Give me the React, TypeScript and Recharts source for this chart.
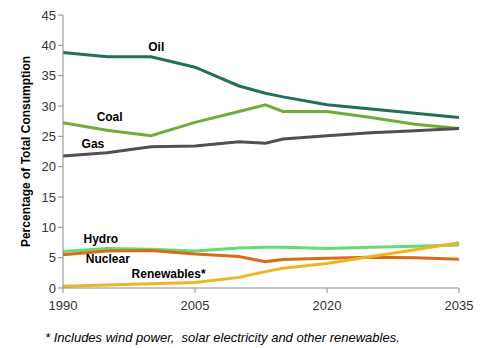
import React from "react";
import { LineChart, Line, XAxis, YAxis, ReferenceDot, Label } from "recharts";

const years = [1990, 1995, 2000, 2005, 2010, 2013, 2015, 2020, 2025, 2030, 2035];
const oil = [38.8, 38.1, 38.1, 36.4, 33.3, 32.1, 31.5, 30.2, 29.5, 28.8, 28.1];
const coal = [27.25, 26.0, 25.1, 27.3, 29.1, 30.2, 29.1, 29.1, 28.1, 27.0, 26.3];
const gas = [21.75, 22.3, 23.3, 23.4, 24.1, 23.85, 24.55, 25.1, 25.6, 25.9, 26.3];
const hydro = [6.0, 6.5, 6.4, 6.1, 6.6, 6.7, 6.7, 6.5, 6.7, 6.9, 7.1];
const nuclear = [5.5, 6.1, 6.2, 5.6, 5.2, 4.35, 4.7, 4.9, 5.05, 5.0, 4.75];
const renewables = [0.3, 0.5, 0.7, 0.9, 1.75, 2.7, 3.25, 4.05, 5.2, 6.3, 7.45];

const xTicks = [1990, 2005, 2020, 2035];
const yTicks = [0, 5, 10, 15, 20, 25, 30, 35, 40, 45];

const seriesNames = ["Oil", "Coal", "Gas", "Hydro", "Nuclear", "Renewables"];
const seriesColors = ["#22705A", "#70AD38", "#524E54", "#63DC74", "#DD6A18", "#EFB421"];

const labelTexts = ["Oil", "Coal", "Gas", "Hydro", "Nuclear", "Renewables*"];
const labelYears = [2000.6, 1995.3, 1993.4, 1994.3, 1995.1, 2002.0];
const labelValues = [39.7, 28.2, 23.7, 8.2, 4.9, 2.3];

const seriesValues = [oil, coal, gas, hydro, nuclear, renewables];
const data = years.map((y, i) => {
  const row: Record<string, number> = { year: y };
  seriesNames.forEach((n, k) => {
    row[n] = seriesValues[k][i];
  });
  return row;
});

const tickStyle = { fontFamily: "Arial, 'Liberation Sans', sans-serif", fontSize: 13, fill: "#333" };

export default function App() {
  return (
    <div style={{ position: "absolute", left: 0, top: 0, width: 489, height: 348, background: "#fff" }}>
      <LineChart width={489} height={348} data={data} margin={{ top: 15, right: 30, bottom: 30, left: 20 }}>
        <XAxis
          dataKey="year"
          type="number"
          domain={[1990, 2035]}
          ticks={xTicks}
          tickSize={5}
          tickMargin={8}
          tick={tickStyle}
          stroke="#8c8c8c"
          tickLine={{ stroke: "#8c8c8c" }}
          height={30}
        />
        <YAxis
          type="number"
          domain={[0, 45]}
          ticks={yTicks}
          tickSize={5}
          tick={tickStyle}
          stroke="#8c8c8c"
          tickLine={{ stroke: "#8c8c8c" }}
          width={43}
          interval={0}
        >
          <Label
            value="Percentage of Total Consumption"
            angle={-90}
            position="insideLeft"
            dx={1}
            style={{
              textAnchor: "middle",
              fontFamily: "Arial, 'Liberation Sans', sans-serif",
              fontWeight: "bold",
              fontSize: 12,
              fill: "#000",
            }}
          />
        </YAxis>
        {seriesNames.map((n, k) => (
          <Line
            key={n}
            dataKey={n}
            stroke={seriesColors[k]}
            strokeWidth={3}
            dot={false}
            activeDot={false}
            type="linear"
            isAnimationActive={false}
          />
        ))}
        {labelTexts.map((t, k) => (
          <ReferenceDot
            key={t}
            x={labelYears[k]}
            y={labelValues[k]}
            r={0}
            fill="none"
            stroke="none"
            label={{
              value: t,
              position: "center",
              style: {
                fontFamily: "Arial, 'Liberation Sans', sans-serif",
                fontWeight: "bold",
                fontSize: 12,
                fill: "#000",
              },
            }}
          />
        ))}
      </LineChart>
      <div
        style={{
          position: "absolute",
          left: 45,
          top: 330,
          fontFamily: "Arial, 'Liberation Sans', sans-serif",
          fontStyle: "italic",
          fontSize: 13,
          color: "#000",
          whiteSpace: "pre",
        }}
      >
        {"* Includes wind power,  solar electricity and other renewables."}
      </div>
    </div>
  );
}
